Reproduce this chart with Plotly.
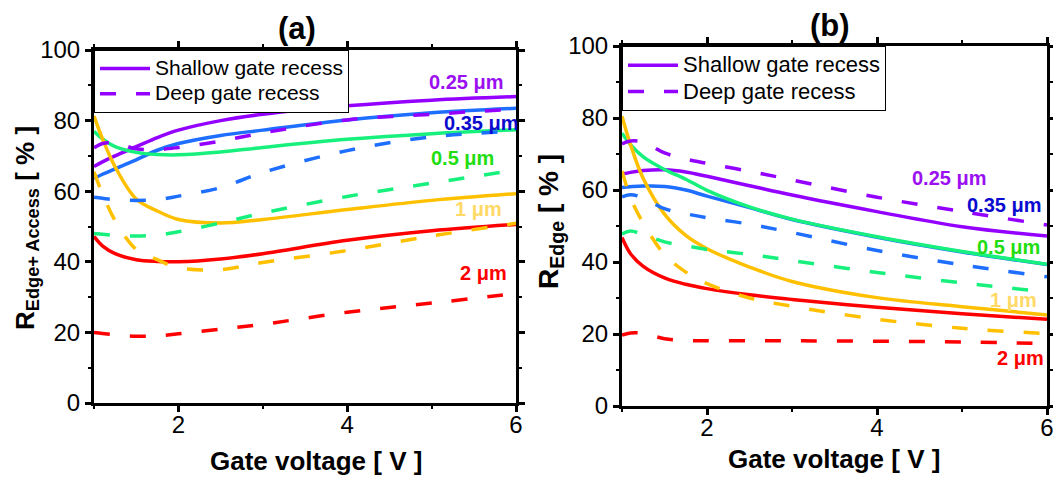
import plotly.graph_objects as go

# ---------------- data ----------------
V = [1, 1.1, 1.25, 1.5, 1.75, 2, 2.5, 3, 4, 5, 6]
WIDTH_LABELS = ["0.25 μm", "0.35 μm", "0.5 μm", "1 μm", "2 μm"]

# panel (a): R_Edge+Access [%]
a_shallow_025 = [67.0, 68.3, 70.0, 72.6, 75.2, 77.3, 80.0, 81.8, 84.2, 85.8, 86.8]
a_shallow_035 = [63.6, 64.8, 66.3, 68.9, 71.6, 73.5, 75.8, 77.3, 80.2, 82.2, 83.5]
a_shallow_05 = [77.0, 74.8, 72.6, 71.0, 70.4, 70.3, 71.1, 72.4, 74.7, 76.3, 77.4]
a_shallow_1 = [81.3, 74.9, 66.9, 57.8, 54.4, 52.0, 51.0, 52.0, 54.8, 57.4, 59.3]
a_shallow_2 = [47.2, 44.5, 42.3, 40.6, 40.1, 40.0, 40.8, 42.3, 46.1, 48.8, 50.6]
a_deep_025 = [72.3, 73.5, 73.8, 72.0, 71.8, 72.4, 74.2, 76.5, 80.2, 81.8, 83.3]
a_deep_035 = [58.3, 58.0, 57.6, 57.4, 57.6, 58.6, 61.0, 65.3, 71.5, 75.4, 77.0]
a_deep_05 = [48.0, 47.8, 47.5, 47.3, 47.6, 48.5, 51.0, 53.8, 58.5, 62.3, 66.0]
a_deep_1 = [65.5, 59.3, 51.7, 43.5, 40.6, 38.3, 37.8, 39.8, 43.2, 47.3, 50.9]
a_deep_2 = [20.0, 19.7, 19.3, 18.9, 19.0, 19.6, 20.9, 22.3, 25.7, 28.3, 31.0]

# panel (b): R_Edge [%]
b_shallow_025 = [64.4, 64.9, 65.4, 65.6, 65.0, 63.8, 61.2, 58.6, 54.0, 49.8, 47.2]
b_shallow_035 = [60.7, 60.9, 61.1, 61.0, 60.0, 58.3, 55.1, 51.8, 46.9, 42.8, 39.3]
b_shallow_05 = [75.8, 72.6, 69.2, 65.7, 63.0, 59.9, 55.3, 51.9, 47.0, 42.9, 39.4]
b_shallow_1 = [80.5, 72.6, 63.2, 53.3, 47.4, 43.7, 38.6, 34.6, 30.1, 27.6, 25.3]
b_shallow_2 = [46.8, 42.3, 38.8, 35.6, 33.8, 32.6, 30.9, 29.6, 27.4, 25.6, 24.1]
b_deep_025 = [72.8, 73.6, 73.3, 70.3, 68.6, 67.4, 65.2, 62.8, 58.0, 54.0, 50.3]
b_deep_035 = [58.1, 58.7, 57.8, 54.8, 53.4, 52.3, 50.5, 48.2, 43.2, 39.2, 35.9]
b_deep_05 = [47.8, 48.6, 47.6, 45.6, 44.5, 43.5, 42.1, 40.4, 37.1, 34.2, 31.7]
b_deep_1 = [65.3, 57.9, 50.8, 42.1, 37.2, 34.0, 30.0, 27.7, 24.1, 21.6, 20.1]
b_deep_2 = [19.7, 20.3, 20.2, 18.7, 18.2, 18.1, 18.1, 18.1, 18.0, 17.8, 17.3]

# label positions (data coords)
a_label_x = [5.41, 5.59, 5.37, 5.55, 5.61]
a_label_y = [91.0, 79.2, 69.3, 54.9, 36.9]
b_label_x = [4.85, 5.50, 5.55, 5.61, 5.69]
b_label_y = [63.2, 55.7, 44.3, 29.4, 13.2]

LEGEND_NAMES = ["Shallow gate recess", "Deep gate recess"]

# ---------------- style ----------------
FONT = "Arial, Liberation Sans, sans-serif"
LINE_COLORS = ["#9400FF", "#1E6EFF", "#18F07E", "#FFC000", "#FF0000"]
LABEL_COLORS = ["#9A10F0", "#0A0ACF", "#22DD11", "#FFD966", "#FF0000"]
W, H = 1053, 477
LW = 3.5
DASH = "16px,20px"


def fx(px):
    return px / W


def fy(py):
    return 1 - py / H


fig = go.Figure()

panels = [
    dict(xa="x", ya="y", legend="legend", lfs=21,
         shallow=[a_shallow_025, a_shallow_035, a_shallow_05, a_shallow_1, a_shallow_2],
         deep=[a_deep_025, a_deep_035, a_deep_05, a_deep_1, a_deep_2],
         lx=a_label_x, ly=a_label_y),
    dict(xa="x2", ya="y2", legend="legend2", lfs=22,
         shallow=[b_shallow_025, b_shallow_035, b_shallow_05, b_shallow_1, b_shallow_2],
         deep=[b_deep_025, b_deep_035, b_deep_05, b_deep_1, b_deep_2],
         lx=b_label_x, ly=b_label_y),
]

annotations = []
for p in panels:
    span = "<span style='font-size:%dpx'>%s</span>"
    for i, ys in enumerate(p["shallow"]):
        fig.add_trace(go.Scatter(
            x=V, y=ys, mode="lines", xaxis=p["xa"], yaxis=p["ya"],
            line=dict(color=LINE_COLORS[i], width=LW, shape="spline", smoothing=1.0),
            name=span % (p["lfs"], LEGEND_NAMES[0]), showlegend=(i == 0), legend=p["legend"],
            hoverinfo="skip"))
    for i, ys in enumerate(p["deep"]):
        fig.add_trace(go.Scatter(
            x=V, y=ys, mode="lines", xaxis=p["xa"], yaxis=p["ya"],
            line=dict(color=LINE_COLORS[i], width=LW, shape="spline", smoothing=1.0, dash=DASH),
            name=span % (p["lfs"], LEGEND_NAMES[1]), showlegend=(i == 0), legend=p["legend"],
            hoverinfo="skip"))
    for i, lab in enumerate(WIDTH_LABELS):
        annotations.append(dict(
            x=p["lx"][i], y=p["ly"][i], xref=p["xa"], yref=p["ya"],
            text="<b>" + lab + "</b>", showarrow=False,
            font=dict(family=FONT, size=20, color=LABEL_COLORS[i])))

# titles and axis titles
common_ann = dict(xref="paper", yref="paper", showarrow=False, xanchor="center", yanchor="middle")
annotations += [
    dict(common_ann, x=fx(297), y=fy(28), text="<b>(a)</b>",
         font=dict(family=FONT, size=31, color="black")),
    dict(common_ann, x=fx(830), y=fy(26), text="<b>(b)</b>",
         font=dict(family=FONT, size=31, color="black")),
    dict(common_ann, x=fx(316), y=fy(461), text="<b>Gate voltage [ V ]</b>",
         font=dict(family=FONT, size=26, color="black")),
    dict(common_ann, x=fx(834), y=fy(459), text="<b>Gate voltage [ V ]</b>",
         font=dict(family=FONT, size=26, color="black")),
    dict(common_ann, x=fx(26), y=fy(228), text="<b>R<sub>Edge+ Access</sub> [ % ]</b>",
         textangle=-90, font=dict(family=FONT, size=26, color="black")),
    dict(common_ann, x=fx(550), y=fy(221), text="<b>R<sub>Edge</sub> [ % ]</b>",
         textangle=-90, font=dict(family=FONT, size=28, color="black")),
]


def axis_common():
    return dict(showline=True, linewidth=3, linecolor="black", mirror="ticks",
                ticks="outside", ticklen=6, tickwidth=2.5, tickcolor="black",
                showgrid=False, zeroline=False, automargin=False,
                ticklabeloverflow="allow",
                tickfont=dict(family=FONT, size=24, color="black"))


xa = axis_common()
xa.update(range=[1, 6], tick0=0, dtick=2, ticklabelstandoff=-8,
          minor=dict(ticks="outside", ticklen=3, tickwidth=2, tickcolor="black", tick0=0, dtick=1))
ya = axis_common()
ya.update(range=[0, 100], tick0=0, dtick=20,
          minor=dict(ticks="outside", ticklen=3, tickwidth=2, tickcolor="black", tick0=0, dtick=10))

x1 = dict(xa, domain=[fx(94), fx(516)], anchor="y")
y1 = dict(ya, domain=[fy(403), fy(50)], anchor="x")
x2 = dict(xa, domain=[fx(622), fx(1047)], anchor="y2")
y2 = dict(ya, domain=[fy(406), fy(46)], anchor="x2")

legend_common = dict(xanchor="left", yanchor="top", bgcolor="white", bordercolor="black",
                     borderwidth=1, itemwidth=50, tracegroupgap=0)

fig.update_layout(
    width=W, height=H, autosize=False,
    margin=dict(l=0, r=0, t=0, b=0, autoexpand=False),
    paper_bgcolor="white", plot_bgcolor="white",
    font=dict(family=FONT, color="black"),
    xaxis=x1, yaxis=y1, xaxis2=x2, yaxis2=y2,
    legend=dict(legend_common, x=fx(94), y=fy(50), font=dict(family=FONT, size=17, color="black")),
    legend2=dict(legend_common, x=fx(622), y=fy(46), font=dict(family=FONT, size=18, color="black")),
    annotations=annotations,
)

fig.write_html("out.html", config={"displayModeBar": False},
               post_script="document.body.style.margin='0';document.body.style.padding='0';"
                           "document.body.style.overflow='hidden';")
